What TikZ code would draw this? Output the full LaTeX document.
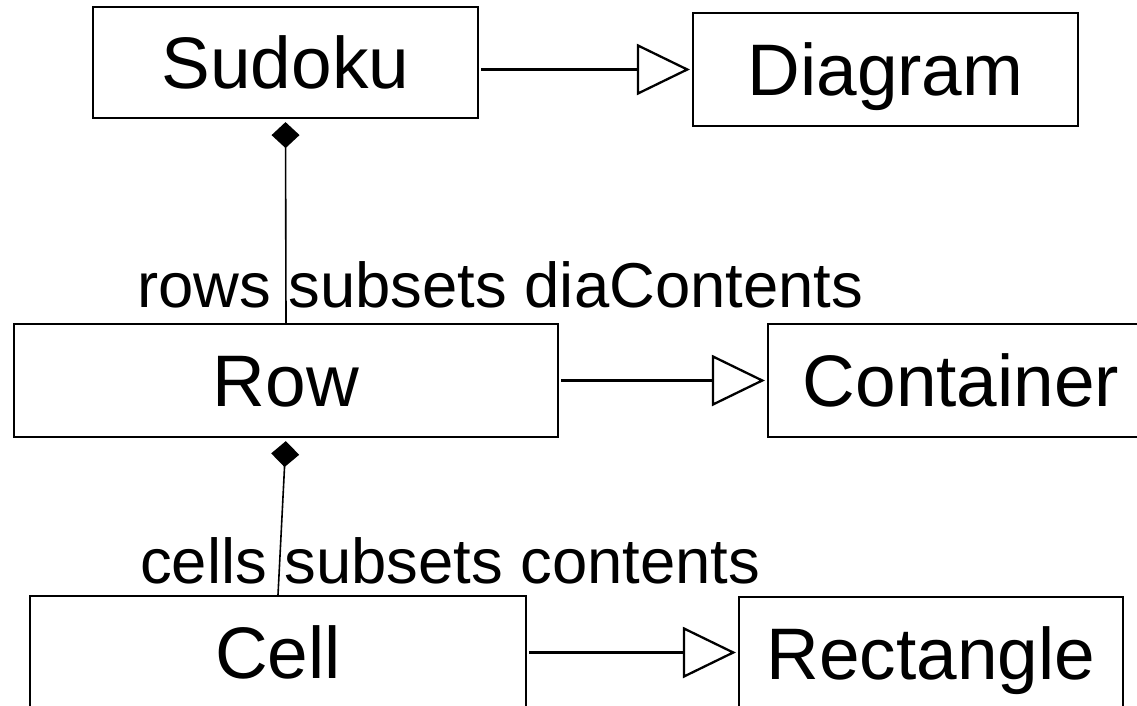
\documentclass[tikz,border=0pt]{standalone}
\usepackage{fontspec}
\setmainfont{Liberation Sans}
\usetikzlibrary{arrows.meta}
\tikzset{
  classbox/.style={draw=black, line width=2.2pt, inner sep=0pt,
    minimum height=113pt, text height=52.3pt, text depth=0pt,
    font=\fontsize{73pt}{80pt}\selectfont},
  rolelabel/.style={inner sep=0pt, anchor=base west,
    font=\fontsize{63.4pt}{70pt}\selectfont},
  inherits/.style={line width=2.3pt,
    -{Triangle[open, length=53pt, width=51pt]},
    shorten <=2pt, shorten >=2pt},
  composes/.style={line width=1.6pt,
    {Diamond[length=26pt, width=28pt]}-, shorten <=3pt},
}
\begin{document}
\begin{tikzpicture}[x=1pt, y=-1pt]
\useasboundingbox (0,0) rectangle (1137,706);
\clip (0,0) rectangle (1137,706);

% classes
\node[classbox, minimum width=385pt, minimum height=111pt] (sudoku) at (285.5,62.5) {Sudoku};
\node[classbox, minimum width=385pt] (diagram) at (885.5,69.5) {Diagram};
\node[classbox, minimum width=544pt] (row) at (286,380.5) {Row};
\node[classbox, minimum width=386pt] (container) at (961,380.5) {Container};
\node[classbox, minimum width=496pt] (cell) at (278,652.5) {Cell};
\node[classbox, minimum width=384pt] (rectangle) at (931,653.5) {Rectangle};

% role names
\node[rolelabel] (rowroles) at (137,307) {rows subsets diaContents};
\node[rolelabel] (cellroles) at (140,583) {cells subsets contents};

% compositions
\draw[composes] (sudoku.south) -- (row.north);
\draw[composes] (row.south) -- (cell.north);

% generalizations
\draw[inherits] (sudoku.east |- diagram.west) -- (diagram.west);
\draw[inherits] (row.east) -- (container.west);
\draw[inherits] (cell.east) -- (cell.east -| rectangle.west);
\end{tikzpicture}
\end{document}
